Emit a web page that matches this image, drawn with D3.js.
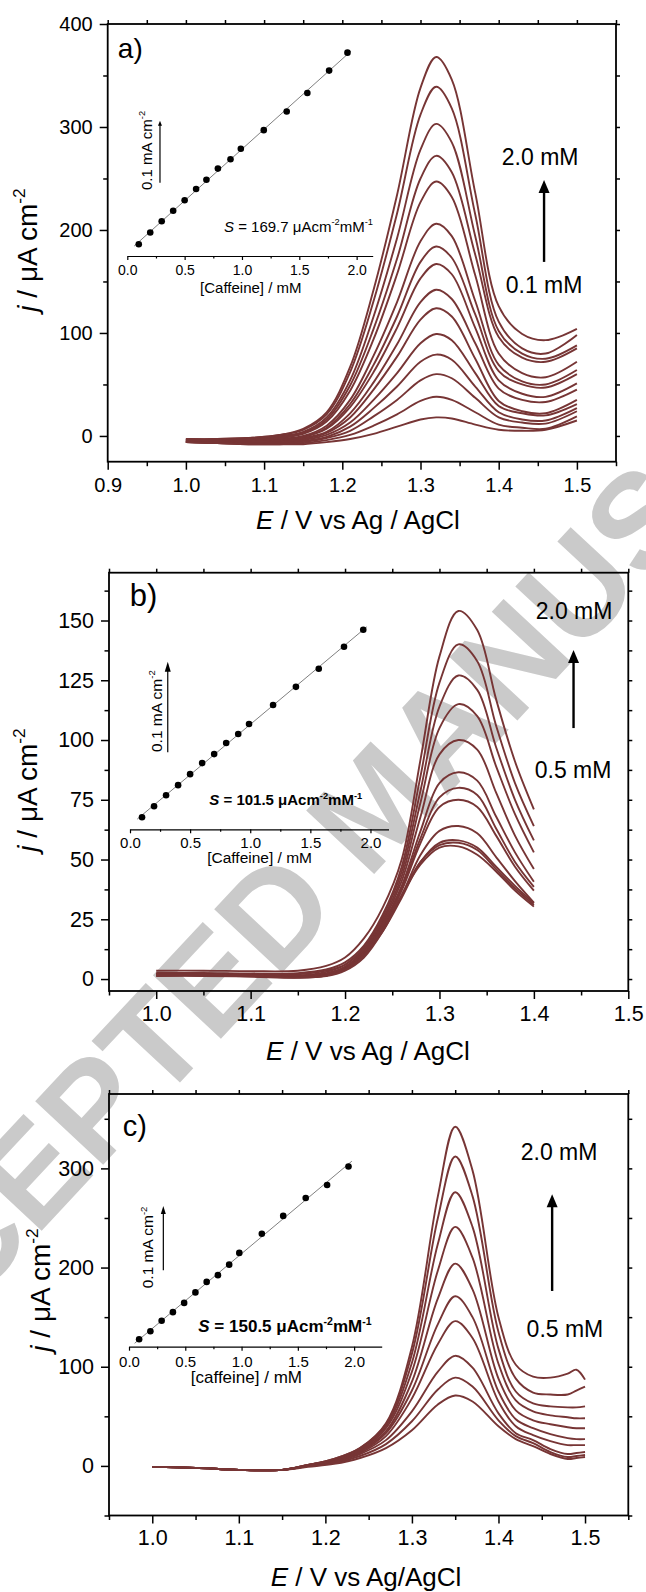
<!DOCTYPE html>
<html>
<head>
<meta charset="utf-8">
<script src="https://cdn.jsdelivr.net/npm/d3@7"></script>
<style>
  body { margin: 0; background: #fff; }
  svg { display: block; font-family: "Liberation Sans", Arial, sans-serif; }
</style>
</head>
<body>
<svg id="fig" width="646" height="1592"></svg>
<script>
// ---- panel a: 15 additions, 0.1 -> 2.0 mM ----
var aPotential = [1.00, 1.04, 1.08, 1.12, 1.15, 1.18, 1.21, 1.24, 1.27, 1.30, 1.32, 1.34, 1.37, 1.40, 1.43, 1.46, 1.50];
var aCurrent = [
  [-3, -3, -2, 1, 7, 23, 67, 142, 234, 338, 368, 346, 236, 126, 99, 93, 104],
  [-3, -3, -2, 1, 6, 21, 62, 131, 216, 312, 339, 318, 215, 111, 85, 80, 98],
  [-4, -4, -3, 0, 4, 18, 54, 116, 192, 278, 303, 285, 194, 102, 80, 75, 88],
  [-4, -4, -3, -1, 3, 16, 49, 104, 172, 250, 272, 256, 176, 96, 76, 72, 85],
  [-4, -4, -4, -2, 2, 14, 44, 94, 157, 227, 247, 232, 156, 80, 61, 57, 72],
  [-5, -5, -5, -3, 0, 10, 35, 78, 130, 189, 206, 194, 131, 69, 53, 50, 64],
  [-5, -5, -5, -4, -1, 8, 31, 69, 116, 169, 184, 173, 118, 63, 50, 47, 60],
  [-5, -5, -6, -4, -1, 7, 28, 62, 105, 153, 167, 157, 105, 54, 41, 38, 51],
  [-6, -6, -6, -5, -2, 4, 22, 52, 89, 130, 142, 133, 90, 46, 35, 33, 45],
  [-6, -6, -7, -6, -3, 3, 18, 45, 77, 113, 124, 116, 75, 34, 24, 22, 35],
  [-6, -6, -7, -6, -4, 1, 13, 35, 61, 90, 99, 93, 61, 29, 22, 20, 31],
  [-6, -6, -7, -7, -5, -1, 9, 27, 48, 72, 79, 74, 48, 23, 16, 15, 27],
  [-6, -7, -7, -7, -6, -2, 5, 19, 35, 54, 60, 56, 37, 18, 13, 12, 24],
  [-6, -7, -8, -8, -7, -4, 1, 10, 21, 34, 38, 35, 23, 11, 8, 7, 19],
  [-6, -7, -8, -8, -8, -6, -3, 2, 9, 16, 18, 17, 11, 6, 5, 6, 15]
];
var aConc = [0.10, 0.20, 0.30, 0.40, 0.50, 0.60, 0.69, 0.79, 0.90, 0.99, 1.19, 1.39, 1.57, 1.76, 1.92];
var aPeak = [19, 38, 56, 73, 90, 108, 123, 141, 156, 173, 203, 233, 263, 299, 328];
var aXTicks = [0.9, 1.0, 1.1, 1.2, 1.3, 1.4, 1.5];
var aYTicks = [0, 100, 200, 300, 400];

// ---- panel b: 0.5 -> 2.0 mM ----
var bPotential = [1.00, 1.05, 1.10, 1.15, 1.18, 1.20, 1.22, 1.24, 1.26, 1.28, 1.30, 1.32, 1.34, 1.36, 1.38, 1.40];
var bCurrent = [
  [3.5, 3.5, 3.3, 3.5, 5.5, 9, 17, 30, 50, 92, 135, 154, 146, 117, 91, 71],
  [2.5, 2.5, 2.3, 2.5, 4, 7, 14, 27, 47, 85, 124, 140, 133, 106, 82, 64],
  [2, 2, 2, 2, 3.5, 6, 13, 26, 45, 79, 114, 127, 121, 97, 75, 58],
  [2, 2, 1.8, 1.5, 3, 6, 13, 25, 43, 74, 105, 115, 110, 89, 69, 53],
  [2, 2, 1.6, 1.2, 2.5, 5, 12, 24, 41, 68, 94, 100, 96, 78, 60, 46],
  [2, 2, 1.5, 1, 2, 5, 12, 23, 39, 62, 82, 86.5, 83, 68, 53, 40.7],
  [2, 2, 1.5, 1, 2, 5, 11, 23, 38, 59, 76, 80, 77, 63, 49, 38.6],
  [1.8, 1.8, 1.4, 0.8, 1.8, 4.5, 11, 22, 37, 57, 72, 75, 72, 60, 47, 37],
  [1.5, 1.5, 1.2, 0.8, 1.5, 4, 10, 21, 35, 52, 62, 64, 61, 51, 41, 32],
  [1.5, 1.5, 1.2, 0.6, 1.5, 4, 10, 20, 34, 49, 57, 58, 55, 47, 39, 31.7],
  [1.8, 1.8, 1.4, 0.8, 1.5, 4, 10, 21, 35, 49, 56, 57, 54, 46, 38, 31],
  [1.3, 1.3, 1, 0.5, 1.2, 3.5, 9, 20, 35, 48, 55, 55.5, 52, 45, 37, 30.3]
];
var bConc = [0.10, 0.20, 0.30, 0.40, 0.50, 0.60, 0.70, 0.80, 0.90, 0.99, 1.19, 1.38, 1.57, 1.78, 1.94];
var bPeak = [12, 23, 34, 44, 55, 66, 75, 86, 95, 105, 124, 142, 160, 182, 199];
var bXTicks = [1.0, 1.1, 1.2, 1.3, 1.4, 1.5];
var bYTicks = [0, 25, 50, 75, 100, 125, 150];

// ---- panel c: 0.5 -> 2.0 mM ----
var cPotential = [1.00, 1.05, 1.10, 1.15, 1.18, 1.21, 1.24, 1.27, 1.30, 1.33, 1.35, 1.37, 1.40, 1.42, 1.44, 1.46, 1.48, 1.49, 1.50];
var cCurrent = [
  [-1, -2, -4, -4, 1, 7, 18, 43, 120, 272, 342, 298, 150, 102, 90, 89, 93, 97, 87],
  [-1, -2, -4, -4, 1, 7, 18, 42, 113, 250, 312, 272, 135, 88, 74, 72, 72, 76, 80],
  [-1, -2, -4, -4, 1, 6, 17, 40, 104, 224, 276, 241, 118, 75, 63, 60, 59, 59, 60],
  [-1, -2, -4, -4, 1, 6, 16, 38, 95, 197, 241, 210, 103, 66, 55, 51, 49, 48, 48],
  [-1, -2, -4, -4, 0, 5, 15, 35, 85, 169, 204, 178, 88, 56, 46, 42, 39, 38, 38],
  [-1, -2, -4, -4, 0, 5, 14, 33, 76, 143, 171, 150, 75, 47, 38, 32, 28, 27, 27],
  [-1, -2, -4, -4, 0, 4, 13, 30, 68, 123, 146, 129, 65, 40, 31, 25, 21, 21, 21],
  [-1, -2, -4, -4, 0, 4, 12, 26, 55, 95, 111, 99, 53, 33, 26, 17, 12, 13, 14],
  [-1, -2, -4, -4, 0, 3, 10, 22, 45, 77, 89, 80, 46, 30, 23, 14, 9, 10, 11],
  [-1, -2, -4, -4, -1, 2, 8, 18, 36, 62, 71, 65, 40, 27, 20, 12, 7, 8, 9]
];
var cConc = [0.09, 0.19, 0.29, 0.39, 0.49, 0.59, 0.69, 0.79, 0.89, 0.98, 1.18, 1.37, 1.57, 1.76, 1.95];
var cPeak = [12, 25, 42, 56, 71, 88, 105, 116, 133, 152, 183, 212, 241, 262, 292];
var cXTicks = [1.0, 1.1, 1.2, 1.3, 1.4, 1.5];
var cYTicks = [0, 100, 200, 300];

var insetXTicks = [0.0, 0.5, 1.0, 1.5, 2.0];
var lineColor = '#773535';

var fig = d3.select('#fig');

// watermark behind the plots
fig.append('text')
  .attr('transform', 'translate(375,805) rotate(-47)')
  .attr('text-anchor', 'middle')
  .attr('dominant-baseline', 'central')
  .style('font-size', '135px')
  .style('font-weight', 'bold')
  .style('fill', '#cacaca')
  .text('ACCEPTED MANUSCRIPT');

// text with italic / superscript pieces
function rich(sel, parts, fs) {
  var raised = false;
  parts.forEach(function(p) {
    var t = sel.append('tspan').text(p[0]);
    var o = p[1] || {};
    if (o.italic) t.style('font-style', 'italic');
    if (o.sup) {
      t.style('font-size', (fs * 0.62) + 'px');
      if (!raised) t.attr('dy', -fs * 0.42);
      raised = true;
    } else if (raised) {
      t.attr('dy', fs * 0.42);
      raised = false;
    }
  });
  return sel;
}

function arrow(g, x, y1, y2, w, headLen, headW) {
  g.append('line')
    .attr('x1', x).attr('x2', x)
    .attr('y1', y1).attr('y2', y2 + headLen * 0.8)
    .attr('stroke', '#000').attr('stroke-width', w);
  g.append('path')
    .attr('d', 'M' + x + ',' + y2 + 'L' + (x - headW / 2) + ',' + (y2 + headLen) + 'L' + (x + headW / 2) + ',' + (y2 + headLen) + 'Z')
    .attr('fill', '#000');
}

function cleanAxis(fs) {
  return function(sel) {
    sel.attr('font-family', null).attr('font-size', null);
    sel.select('.domain').remove();
    sel.selectAll('line').attr('stroke', '#000').attr('stroke-width', 1.5);
    sel.selectAll('text').attr('fill', '#000').style('font-size', fs + 'px');
  };
}

function drawPanel(p) {
  var g = fig.append('g');
  var x = d3.scaleLinear().domain(p.xDomain).range([p.left, p.right]);
  var y = d3.scaleLinear().domain(p.yDomain).range([p.bottom, p.top]);
  var fmt = d3.format('.1f');
  var xMinor = p.xTicks.map(function(v) { return v - p.xStep / 2; }).concat([p.xTicks[p.xTicks.length - 1] + p.xStep / 2])
    .filter(function(v) { return v >= p.xDomain[0] - 1e-9 && v <= p.xDomain[1] + 1e-9; });
  var yMinor = p.yTicks.map(function(v) { return v + p.yStep / 2; }).concat([p.yTicks[0] - p.yStep / 2])
    .filter(function(v) { return v >= p.yDomain[0] - 1e-9 && v <= p.yDomain[1] + 1e-9; });

  // bottom / left with labels
  g.append('g').attr('transform', 'translate(0,' + p.bottom + ')')
    .call(d3.axisBottom(x).tickValues(p.xTicks).tickSize(8).tickPadding(p.xPad).tickFormat(fmt))
    .call(cleanAxis(p.tickFont));
  g.append('g').attr('transform', 'translate(0,' + p.bottom + ')')
    .call(d3.axisBottom(x).tickValues(xMinor).tickSize(4.5).tickFormat(''))
    .call(cleanAxis(p.tickFont));
  g.append('g').attr('transform', 'translate(' + p.left + ',0)')
    .call(d3.axisLeft(y).tickValues(p.yTicks).tickSize(8).tickPadding(7).tickFormat(d3.format('d')))
    .call(cleanAxis(p.tickFont));
  g.append('g').attr('transform', 'translate(' + p.left + ',0)')
    .call(d3.axisLeft(y).tickValues(yMinor).tickSize(4.5).tickFormat(''))
    .call(cleanAxis(p.tickFont));
  // top / right, short ticks
  g.append('g').attr('transform', 'translate(0,' + p.top + ')')
    .call(d3.axisTop(x).tickValues(p.xTicks.concat(xMinor)).tickSize(4).tickFormat(''))
    .call(cleanAxis(p.tickFont));
  g.append('g').attr('transform', 'translate(' + p.right + ',0)')
    .call(d3.axisRight(y).tickValues(p.yTicks.concat(yMinor)).tickSize(4).tickFormat(''))
    .call(cleanAxis(p.tickFont));

  g.append('rect')
    .attr('x', p.left).attr('y', p.top)
    .attr('width', p.right - p.left).attr('height', p.bottom - p.top)
    .attr('fill', 'none').attr('stroke', '#000').attr('stroke-width', 1.8);

  // voltammograms
  var line = d3.line()
    .x(function(d, i) { return x(p.potential[i]); })
    .y(function(d) { return y(d); })
    .curve(d3.curveCatmullRom.alpha(0.5));
  g.append('g').selectAll('path')
    .data(p.current)
    .join('path')
    .attr('d', line)
    .attr('fill', 'none')
    .attr('stroke', lineColor)
    .attr('stroke-width', 1.9);

  // axis titles
  rich(g.append('text')
    .attr('x', p.xTitle[0]).attr('y', p.xTitle[1])
    .attr('text-anchor', 'middle')
    .style('font-size', p.xTitleFont + 'px'),
    [['E', { italic: true }], [p.xTitleText]], p.xTitleFont);
  rich(g.append('text')
    .attr('transform', 'translate(' + p.yTitle[0] + ',' + p.yTitle[1] + ') rotate(-90)')
    .attr('text-anchor', 'middle')
    .style('font-size', p.yTitleFont + 'px'),
    [['j', { italic: true }], [' / \u03bcA cm'], ['-2', { sup: true }]], p.yTitleFont);

  // panel letter
  g.append('text')
    .attr('x', x(p.letterAt[0])).attr('y', y(p.letterAt[1]))
    .style('font-size', p.letterFont + 'px')
    .text(p.letter);

  // concentration annotation
  g.append('text')
    .attr('x', x(p.hiAt[0])).attr('y', y(p.hiAt[1]))
    .attr('text-anchor', 'middle').style('font-size', '23px')
    .text('2.0 mM');
  g.append('text')
    .attr('x', x(p.loAt[0])).attr('y', y(p.loAt[1]))
    .attr('text-anchor', 'middle').style('font-size', '23px')
    .text(p.loText);
  arrow(g, x(p.arrow[0]), y(p.arrow[1]), y(p.arrow[2]), 2.4, 13, 11);

  drawInset(g, p.inset);
}

function drawInset(g, q) {
  var xi = d3.scaleLinear().domain([0, q.xMax]).range([q.x0, q.x1]);
  var yi = d3.scaleLinear().domain([0, 100]).range([q.y0, q.y0 - 100 * q.k]);

  var ax = g.append('g').attr('transform', 'translate(0,' + q.y0 + ')')
    .call(d3.axisBottom(xi).tickValues(insetXTicks).tickSize(4).tickSizeOuter(0).tickPadding(q.tickPad).tickFormat(d3.format('.1f')));
  ax.attr('font-family', null).attr('font-size', null);
  ax.select('.domain').attr('stroke', '#000').attr('stroke-width', 1.2);
  ax.selectAll('line').attr('stroke', '#000').attr('stroke-width', 1.2);
  ax.selectAll('text').attr('fill', '#000').style('font-size', q.tickFont + 'px');
  var minor = insetXTicks.slice(0, -1).map(function(v) { return v + 0.25; });
  var mx = g.append('g').attr('transform', 'translate(0,' + q.y0 + ')')
    .call(d3.axisBottom(xi).tickValues(minor).tickSize(2.5).tickSizeOuter(0).tickFormat(''));
  mx.select('.domain').remove();
  mx.selectAll('line').attr('stroke', '#000').attr('stroke-width', 1.2);

  g.append('text')
    .attr('x', q.titleX).attr('y', q.titleY)
    .attr('text-anchor', 'middle').style('font-size', q.titleFont + 'px')
    .text(q.title);

  // least squares fit through the inset points
  var mxv = d3.mean(q.conc), myv = d3.mean(q.peak);
  var slope = d3.sum(q.conc, function(c, i) { return (c - mxv) * (q.peak[i] - myv); }) /
              d3.sum(q.conc, function(c) { return (c - mxv) * (c - mxv); });
  var icpt = myv - slope * mxv;
  var ends = [q.conc[0] - 0.04, q.conc[q.conc.length - 1] + 0.03];
  g.append('line')
    .attr('x1', xi(ends[0])).attr('y1', yi(icpt + slope * ends[0]))
    .attr('x2', xi(ends[1])).attr('y2', yi(icpt + slope * ends[1]))
    .attr('stroke', '#808080').attr('stroke-width', 1);
  g.append('g').selectAll('circle')
    .data(q.conc)
    .join('circle')
    .attr('cx', function(d) { return xi(d); })
    .attr('cy', function(d, i) { return yi(q.peak[i]); })
    .attr('r', 3.3)
    .attr('fill', '#000');

  // 0.1 mA cm-2 scale bar
  arrow(g, xi(q.bar[0]), yi(q.bar[1]), yi(q.bar[2]), 1.2, q.head[0], q.head[1]);
  rich(g.append('text')
    .attr('transform', 'translate(' + q.barLabel[0] + ',' + q.barLabel[1] + ') rotate(-90)')
    .style('font-size', q.barFont + 'px'),
    [['0.1 mA cm'], ['-2', { sup: true }]], q.barFont);

  var s = g.append('text')
    .attr('x', q.sAt[0]).attr('y', q.sAt[1])
    .attr('text-anchor', q.sAnchor)
    .style('font-size', q.sFont + 'px')
    .style('font-weight', q.sBold ? 'bold' : 'normal');
  rich(s, [['S', { italic: true }], [' = ' + q.sVal + ' \u03bcAcm'], ['-2', { sup: true }], ['mM'], ['-1', { sup: true }]], q.sFont);
}

drawPanel({
  potential: aPotential, current: aCurrent,
  xTicks: aXTicks, yTicks: aYTicks, xStep: 0.1, yStep: 100,
  left: 107.7, right: 616, top: 24, bottom: 461.7,
  xDomain: [0.9, 1.55], yDomain: [-25, 400],
  tickFont: 20, xPad: 8,
  xTitleFont: 26, yTitleFont: 28, xTitle: [358, 529], yTitle: [37, 250], xTitleText: ' / V vs Ag / AgCl',
  letter: 'a)', letterAt: [0.913, 367], letterFont: 28,
  hiAt: [1.453, 263], loAt: [1.458, 139], loText: '0.1 mM', arrow: [1.458, 169, 248.5],
  inset: {
    conc: aConc, peak: aPeak,
    x0: 127.3, x1: 372.7, xMax: 2.14, y0: 256, k: 0.62,
    tickFont: 14, tickPad: 5, title: '[Caffeine] / mM', titleFont: 15, titleX: 250.8, titleY: 293,
    bar: [0.285, 118, 218], head: [5, 4], barLabel: [151.5, 190], barFont: 15,
    sVal: '169.7', sBold: false, sFont: 15, sAnchor: 'end', sAt: [373, 231.7]
  }
});

drawPanel({
  potential: bPotential, current: bCurrent,
  xTicks: bXTicks, yTicks: bYTicks, xStep: 0.1, yStep: 25,
  left: 109, right: 628.3, top: 572.7, bottom: 991,
  xDomain: [0.95, 1.5], yDomain: [-5, 170],
  tickFont: 21.5, xPad: 7,
  xTitleFont: 26, yTitleFont: 28, xTitle: [368, 1060], yTitle: [37, 790], xTitleText: ' / V vs Ag / AgCl',
  letter: 'b)', letterAt: [0.972, 156], letterFont: 31,
  hiAt: [1.4426, 150.6], loAt: [1.4415, 84.2], loText: '0.5 mM', arrow: [1.442, 105, 137.7],
  inset: {
    conc: bConc, peak: bPeak,
    x0: 130, x1: 388.5, xMax: 2.15, y0: 829.3, k: 1.003,
    tickFont: 15, tickPad: 4, title: '[Caffeine] / mM', titleFont: 15.5, titleX: 259.6, titleY: 863,
    bar: [0.314, 76.8, 167], head: [10, 6], barLabel: [161.5, 752], barFont: 15.5,
    sVal: '101.5', sBold: true, sFont: 15, sAnchor: 'start', sAt: [209.3, 805]
  }
});

drawPanel({
  potential: cPotential, current: cCurrent,
  xTicks: cXTicks, yTicks: cYTicks, xStep: 0.1, yStep: 100,
  left: 109, right: 628.3, top: 1094, bottom: 1515.5,
  xDomain: [0.95, 1.55], yDomain: [-50, 375],
  tickFont: 21.5, xPad: 6,
  xTitleFont: 26, yTitleFont: 28, xTitle: [366, 1586], yTitle: [50, 1290], xTitleText: ' / V vs Ag/AgCl',
  letter: 'c)', letterAt: [0.966, 332.7], letterFont: 29,
  hiAt: [1.47, 308.8], loAt: [1.4768, 129.6], loText: '0.5 mM', arrow: [1.462, 176.4, 274],
  inset: {
    conc: cConc, peak: cPeak,
    x0: 129, x1: 381.7, xMax: 2.245, y0: 1346.7, k: 0.617,
    tickFont: 15, tickPad: 6, title: '[caffeine] / mM', titleFont: 17, titleX: 246.4, titleY: 1383,
    bar: [0.305, 124, 228], head: [8, 5], barLabel: [153, 1288.3], barFont: 15.5,
    sVal: '150.5', sBold: true, sFont: 17, sAnchor: 'start', sAt: [198.3, 1331.7]
  }
});
</script>
</body>
</html>
